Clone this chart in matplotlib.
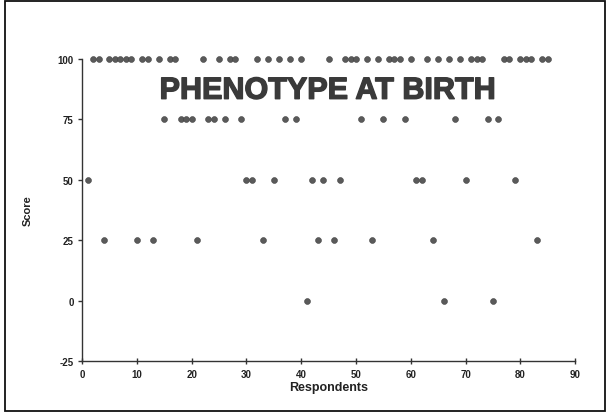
import matplotlib

matplotlib.use("Agg")
import matplotlib.pyplot as plt
import matplotlib.patheffects as pe
from matplotlib.patches import Rectangle

# score per respondent group (respondents 1..85)
score_0 = [41, 66, 75]
score_25 = [4, 10, 13, 21, 33, 43, 46, 53, 64, 83]
score_50 = [1, 30, 31, 35, 42, 44, 47, 61, 62, 70, 79]
score_75 = [15, 18, 19, 20, 23, 24, 26, 29, 37, 39, 51, 55, 59, 68, 74, 76]
score_100 = [2, 3, 5, 6, 7, 8, 9, 11, 12, 14, 16, 17, 22, 25, 27, 28, 32, 34, 36,
             38, 40, 45, 48, 49, 50, 52, 54, 56, 57, 58, 60, 63, 65, 67, 69, 71,
             72, 73, 77, 78, 80, 81, 82, 84, 85]

groups = [(0, score_0), (25, score_25), (50, score_50), (75, score_75), (100, score_100)]

x_ticks = list(range(0, 91, 10))
y_ticks = [-25, 0, 25, 50, 75, 100]

plt.rcParams["font.family"] = ["Liberation Sans", "DejaVu Sans"]
plt.rcParams["axes.unicode_minus"] = False

fig = plt.figure(figsize=(6.08, 4.14), dpi=100)
ax = fig.add_axes([0.135, 0.1256, 0.811, 0.7294])

dot = "#5a5a5a"
for score, resp in groups:
    ax.scatter(resp, [score] * len(resp), s=18, color=dot, edgecolors="#444444",
               linewidths=0.4, zorder=3, clip_on=False)

ax.set_xlim(0, 90)
ax.set_ylim(-25, 100)
ax.set_xticks(x_ticks)
ax.set_yticks(y_ticks)
for s in ("top", "right"):
    ax.spines[s].set_visible(False)
for s in ("left", "bottom"):
    ax.spines[s].set_color("#333333")
    ax.spines[s].set_linewidth(1.0)
ax.tick_params(axis="x", direction="inout", length=5, width=1, color="#333333",
               labelsize=7, pad=3)
ax.tick_params(axis="y", direction="out", length=3, width=1, color="#333333",
               labelsize=7, pad=3)
for lab in ax.get_xticklabels() + ax.get_yticklabels():
    lab.set_fontweight("bold")
    lab.set_color("#222222")

ax.set_xlabel("Respondents", fontsize=9, fontweight="bold", color="#222222", labelpad=2)
ax.set_ylabel("Score", fontsize=8, fontweight="bold", color="#222222", labelpad=18)

ax.text(0.497, 0.895, "PHENOTYPE AT BIRTH", transform=ax.transAxes, ha="center",
        va="center", fontsize=22, fontweight="bold", color="#3a3a3a",
        path_effects=[pe.withStroke(linewidth=1.0, foreground="#3a3a3a")])

fig.patches.append(Rectangle((0.008, 0.005), 0.987, 0.99, transform=fig.transFigure,
                             fill=False, edgecolor="#111111", linewidth=1.3))

fig.savefig("out.png", dpi=100, facecolor="white")
